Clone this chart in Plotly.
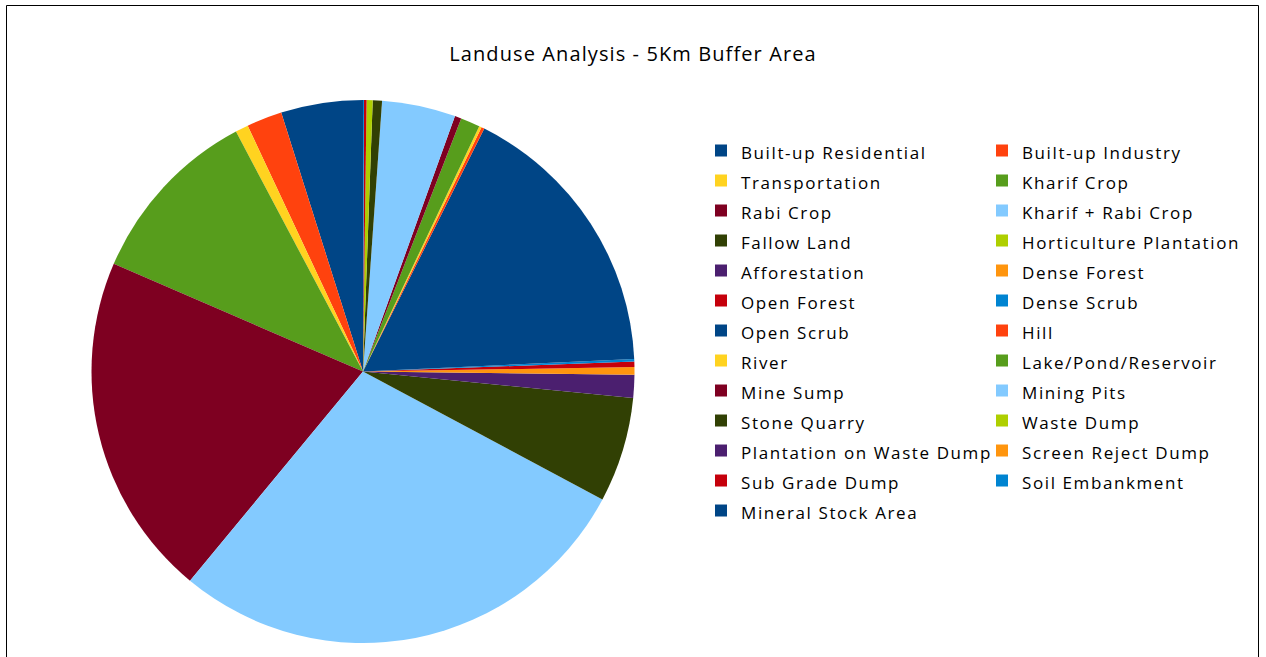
import plotly.graph_objects as go

categories = [
    "Built-up Residential", "Built-up Industry", "Transportation", "Kharif Crop",
    "Rabi Crop", "Kharif + Rabi Crop", "Fallow Land", "Horticulture Plantation",
    "Afforestation", "Dense Forest", "Open Forest", "Dense Scrub",
    "Open Scrub", "Hill", "River", "Lake/Pond/Reservoir",
    "Mine Sump", "Mining Pits", "Stone Quarry", "Waste Dump",
    "Plantation on Waste Dump", "Screen Reject Dump", "Sub Grade Dump", "Soil Embankment",
    "Mineral Stock Area",
]
values_pct = [
    4.87, 2.11, 0.77, 10.76,
    20.49, 28.18, 6.25, 0.0,
    1.37, 0.45, 0.33, 0.14,
    16.90, 0.18, 0.15, 1.15,
    0.39, 4.38, 0.55, 0.36,
    0.0, 0.0, 0.15, 0.06,
    0.0,
]
palette = ["#004586", "#ff420e", "#ffd320", "#579d1c", "#7e0021", "#83caff",
           "#314004", "#aecf00", "#4b1f6f", "#ff950e", "#c5000b", "#0084d1"]
slice_colors = [palette[i % len(palette)] for i in range(len(categories))]
legend_labels = ['<span style="font-size:17px;letter-spacing:1.6px">' + c + '</span>'
                 for c in categories]
title_text = "Landuse Analysis - 5Km Buffer Area"

W, H = 1266, 657
ml, mr, mt, mb = 25, 565, 100, 14
pw, ph = W - ml - mr, H - mt - mb

def px_x(x):
    return (x - ml) / pw

def px_y(y):
    return (H - mb - y) / ph

# first slice starts at 12 o'clock and runs counterclockwise
first_angle = values_pct[0] / sum(values_pct) * 360.0

fig = go.Figure(go.Pie(
    labels=legend_labels,
    values=values_pct,
    sort=False,
    direction="counterclockwise",
    rotation=-first_angle,
    textinfo="none",
    marker=dict(colors=slice_colors, line=dict(width=0)),
    hovertemplate="%{label}: %{value}%<extra></extra>",
    domain=dict(x=[0, 1], y=[0, 1]),
))

fig.update_layout(
    width=W, height=H,
    margin=dict(l=ml, r=mr, t=mt, b=mb),
    paper_bgcolor="white",
    plot_bgcolor="white",
    font=dict(family="Open Sans, sans-serif", color="#000000"),
    title=dict(text='<span style="letter-spacing:1.1px">' + title_text + '</span>',
               x=0.5, xref="container", xanchor="center",
               y=1 - 54 / H, yref="container", yanchor="middle",
               font=dict(size=20, color="#000000", family="Open Sans, sans-serif")),
    showlegend=True,
    legend=dict(
        orientation="h",
        xref="container", yref="paper",
        x=701 / W, xanchor="left",
        y=px_y(130.5), yanchor="top",
        entrywidth=236, entrywidthmode="pixels",
        maxheight=1.0,
        font=dict(size=20.77, color="#000000", family="Open Sans, sans-serif"),
        bgcolor="rgba(0,0,0,0)",
        traceorder="normal",
    ),
    shapes=[dict(type="rect", xref="paper", yref="paper",
                 x0=px_x(6.5), x1=px_x(1258.5), y0=px_y(662), y1=px_y(5.5),
                 line=dict(color="#000000", width=1), fillcolor="rgba(0,0,0,0)",
                 layer="below")],
)

fig.write_html("out.html",
               config={"displayModeBar": False},
               post_script="document.body.style.margin='0';"
                           "document.body.style.overflow='hidden';")
